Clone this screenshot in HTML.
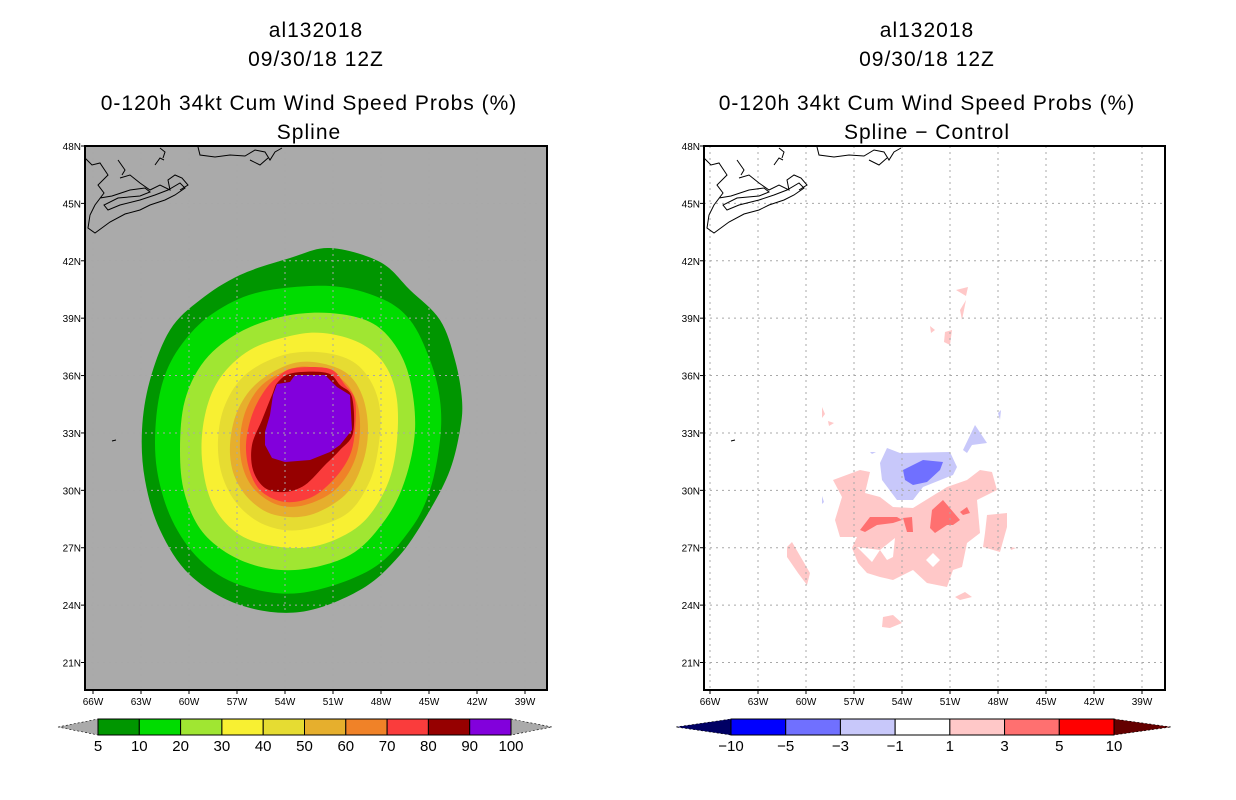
<!DOCTYPE html>
<html><head><meta charset="utf-8"><style>
body{margin:0;background:#fff;width:1236px;height:800px;overflow:hidden}
svg{display:block}
text{font-family:"Liberation Sans",sans-serif;fill:#000}
.t{font-size:21px;letter-spacing:1px}
.tk{font-size:10px}
.cb{font-size:15px}
</style></head><body>
<svg id="s" width="1236" height="800">
<g>
<text class="t" x="316" y="37" text-anchor="middle">al132018</text>
<text class="t" x="316" y="66" text-anchor="middle">09/30/18 12Z</text>
<text class="t" x="309" y="110" text-anchor="middle">0-120h 34kt Cum Wind Speed Probs (%)</text>
<text class="t" x="309" y="139" text-anchor="middle">Spline</text>
</g>
<g>
<text class="t" x="927" y="37" text-anchor="middle">al132018</text>
<text class="t" x="927" y="66" text-anchor="middle">09/30/18 12Z</text>
<text class="t" x="927" y="110" text-anchor="middle">0-120h 34kt Cum Wind Speed Probs (%)</text>
<text class="t" x="927" y="139" text-anchor="middle">Spline − Control</text>
</g>
<clipPath id="cl"><rect x="85" y="146" width="462" height="544"/></clipPath>
<clipPath id="cr"><rect x="704" y="146" width="461" height="544"/></clipPath>
<g id="left" clip-path="url(#cl)">
<rect x="85" y="146" width="462" height="544" fill="#aaaaaa"/>
<path class="sm" fill="#009600" d="M330,248 L380,262 410,290 440,320 455,360 462,400 460,430 450,470 430,510 400,555 360,590 300,612 240,605 190,575 160,530 145,480 142,430 150,380 170,330 200,300 240,275 290,258Z"/>
<path class="sm" fill="#00dc00" d="M330,286 L380,298 410,320 430,360 440,400 440,440 430,490 410,530 370,570 300,593 240,585 200,560 172,520 157,470 156,420 165,375 185,340 215,312 260,292Z"/>
<path class="sm" fill="#a0e632" d="M330,313 L370,322 395,345 410,380 415,430 405,480 385,520 350,555 295,570 245,562 205,535 185,495 180,450 185,400 205,360 240,332 285,316Z"/>
<path class="sm" fill="#f8f032" d="M323,333 L360,343 385,365 397,400 396,450 385,490 360,525 320,545 280,547 240,535 213,505 202,460 205,415 220,378 250,350 290,336Z"/>
<path class="sm" fill="#e6dc32" d="M317,352 L350,360 370,380 380,410 378,450 368,485 345,515 300,530 265,525 238,505 222,475 218,440 225,405 245,375 280,356Z"/>
<path class="sm" fill="#e6af2d" d="M313,362 L345,372 362,395 368,430 362,465 345,495 310,515 275,515 250,500 234,475 230,445 237,412 255,385 285,366Z"/>
<path class="sm" fill="#f08228" d="M310,367 L340,378 356,400 360,430 354,462 335,490 305,505 278,505 255,490 243,468 240,440 246,410 262,385 288,370Z"/>
<path class="sm" fill="#fa3c3c" d="M295,368 L330,369 345,385 355,400 355,430 350,455 335,478 312,497 285,502 262,492 250,472 246,445 252,415 265,390 280,375Z"/>
<path class="sm" fill="#960000" d="M293,373 L327,373 340,385 352,397 353,433 340,450 325,465 305,485 285,492 265,488 253,470 252,445 262,420 272,395 278,382Z"/>
<path fill="#8200dc" d="M295,375 L325,375 337,387 350,395 352,430 340,445 330,452 310,460 285,462 272,458 265,445 265,432 270,415 273,395 277,384 290,382Z"/>
<g id="gl"></g>
<g id="coastL" fill="none" stroke="#000" stroke-width="1"></g>
</g>
<rect x="85" y="146" width="462" height="544" fill="none" stroke="#000" stroke-width="2"/>
<g id="right" clip-path="url(#cr)">
<rect x="704" y="146" width="461" height="544" fill="#fff"/>
<path fill="#ffc8c8" fill-rule="evenodd" d="M833,480 L860,470 870,472 865,493 880,497 893,507 913,508 947,487 967,480 980,470 992,472 997,490 977,500 980,533 967,543 962,567 953,570 947,587 927,583 913,570 893,580 880,577 867,573 858,563 852,548 857,537 840,537 835,520 842,497Z M857,547 L880,550 872,562Z M880,550 L895,538 893,557 887,560Z M933,553 L940,560 933,567 926,560Z"/>
<path fill="#ffc8c8" d="M987,515 L1007,513 1007,527 1000,552 983,547 985,533Z M787,547 L792,542 810,573 807,585 798,573 787,557Z M883,617 L893,615 902,623 890,628 882,627Z M955,597 L965,592 972,597 960,600Z M960,310 L966,300 962,320Z M956,290 L968,287 966,296Z M945,332 L952,330 950,345 944,342Z M930,326 L935,330 931,333Z M822,407 L825,414 822,418Z M828,421 L834,423 829,426Z M1010,547 L1016,548 1011,550Z"/>
<path fill="#ff7070" d="M860,530 L870,517 897,517 902,520 893,523 877,525 865,532Z M903,518 L912,517 913,532 907,532Z M932,510 L943,500 960,520 953,525 947,525 935,533 930,528Z M960,512 L967,507 970,513 963,515Z"/>
<path fill="#c8c8fa" d="M880,463 L887,448 900,453 950,452 957,467 953,475 923,487 913,500 897,500 882,480Z M963,450 L975,425 987,443 972,445 967,453Z M998,413 L1001,410 1000,420Z M822,496 L824,502 822,504Z M870,452 L876,452 872,454Z"/>
<path fill="#7070ff" d="M903,470 L923,460 943,462 940,470 927,482 913,485 905,480Z"/>
<g id="gr"></g>
<g id="coastR" fill="none" stroke="#000" stroke-width="1"></g>
</g>
<rect x="704" y="146" width="461" height="544" fill="none" stroke="#000" stroke-width="2"/>
<g id="axes"></g>
<g id="cbars"></g>
</svg>
<script>
const lonLabels=["66W","63W","60W","57W","54W","51W","48W","45W","42W","39W"];
const lonVals=[66,63,60,57,54,51,48,45,42,39];
const latLabels=["48N","45N","42N","39N","36N","33N","30N","27N","24N","21N"];
const latVals=[48,45,42,39,36,33,30,27,24,21];
const leftLevels=["5","10","20","30","40","50","60","70","80","90","100"];
const leftColors=["#009600","#00dc00","#a0e632","#f8f032","#e6dc32","#e6af2d","#f08228","#fa3c3c","#960000","#8200dc"];
const rightLevels=["−10","−5","−3","−1","1","3","5","10"];
const rightColors=["#0000ff","#7070ff","#c8c8fa","#ffffff","#ffc8c8","#ff7070","#ff0000"];
const NS="http://www.w3.org/2000/svg";
function mk(t,a,p){const e=document.createElementNS(NS,t);for(const k in a)e.setAttribute(k,a[k]);p.appendChild(e);return e;}
// smooth closed contours
document.querySelectorAll('path.sm').forEach(p=>{
 const n=p.getAttribute('d').match(/-?\d+(\.\d+)?/g).map(Number);const P=[];
 for(let i=0;i<n.length;i+=2)P.push([n[i],n[i+1]]);
 const L=P.length;let d=`M${P[0][0]},${P[0][1]}`;
 for(let i=0;i<L;i++){const p0=P[(i-1+L)%L],p1=P[i],p2=P[(i+1)%L],p3=P[(i+2)%L];
  d+=` C${p1[0]+(p2[0]-p0[0])/6},${p1[1]+(p2[1]-p0[1])/6} ${p2[0]-(p3[0]-p1[0])/6},${p2[1]-(p3[1]-p1[1])/6} ${p2[0]},${p2[1]}`;}
 p.setAttribute('d',d+'Z');});
function xL(lon,off){return 93+(66-lon)*16+off;}
function yL(lat){return 146+(48-lat)*19.13;}
const axes=document.getElementById('axes');
[[0,'gl',85,547],[617,'gr',704,1165]].forEach(([off,gid,x0,x1])=>{
 const g=document.getElementById(gid);
 lonVals.forEach((v,i)=>{const x=xL(v,off);
  const l=mk('line',{x1:x,x2:x,y1:146,y2:690,stroke:'#a8a8a8','stroke-dasharray':'2,4'},g);
  
  mk('line',{x1:x,x2:x,y1:690,y2:694,stroke:'#000'},axes);
  const t=mk('text',{x:x,y:705,'text-anchor':'middle',class:'tk'},axes);t.textContent=lonLabels[i];
  });
 latVals.forEach((v,i)=>{const y=yL(v);
  const l=mk('line',{x1:x0,x2:x1,y1:y,y2:y,stroke:'#a8a8a8','stroke-dasharray':'2,4'},g);
  
  mk('line',{x1:x0-4,x2:x0,y1:y,y2:y,stroke:'#000'},axes);
  const t=mk('text',{x:x0-4,y:y+4,'text-anchor':'end',class:'tk'},axes);t.textContent=latLabels[i];
  });
});
const coast=["M85,158 L92,165 100,163 108,175 98,185 104,193 95,205 90,215 88,228 95,233 110,222 125,214 140,210 150,205 165,200 175,195 185,188 180,183 168,190 155,195 140,200 120,205 108,210 104,205 118,198 140,196 150,192 145,188 130,190 112,196 100,198",
"M120,178 L130,175 140,183 150,190 160,185 170,190 168,180 175,175 182,178 188,185 180,190",
"M160,148 L165,152 163,158",
"M118,160 L125,170 122,175",
"M198,147 L200,155 215,157 230,155 245,156 255,150 265,152 270,160 275,152 282,148",
"M250,160 L260,165 268,158",
"M155,165 L160,158 164,160",
"M112,441 L116,440"];
[['coastL',0],['coastR',619]].forEach(([id,off])=>{const g=document.getElementById(id);
 coast.forEach(d=>{const p=mk('path',{d:d,transform:'translate('+off+',0)'},g);
 });});
const cb=document.getElementById('cbars');
function bar(x0,x1,tl,tr,cols,labs,lc,rc){
 const w=(x1-x0)/cols.length,y0=719,y1=735;
 const a=mk('polygon',{points:`${tl},727 ${x0},${y0} ${x0},${y1}`,fill:lc,stroke:'#000','stroke-dasharray':'2,2','stroke-width':0.6},cb);
 
 const b=mk('polygon',{points:`${tr},727 ${x1},${y0} ${x1},${y1}`,fill:rc,stroke:'#000','stroke-dasharray':'2,2','stroke-width':0.6},cb);
 
 cols.forEach((c,i)=>{const r=mk('rect',{x:x0+i*w,y:y0,width:w,height:y1-y0,fill:c,stroke:'#000','stroke-width':1},cb);
  });
 labs.forEach((l,i)=>{const t=mk('text',{x:x0+i*w,y:751,'text-anchor':'middle',class:'cb'},cb);t.textContent=l;
  });
}
bar(98,511,58,552,leftColors,leftLevels,'#aaaaaa','#aaaaaa');
bar(731,1114,676,1171,rightColors,rightLevels,'#000064','#640000');
</script>
</body></html>
